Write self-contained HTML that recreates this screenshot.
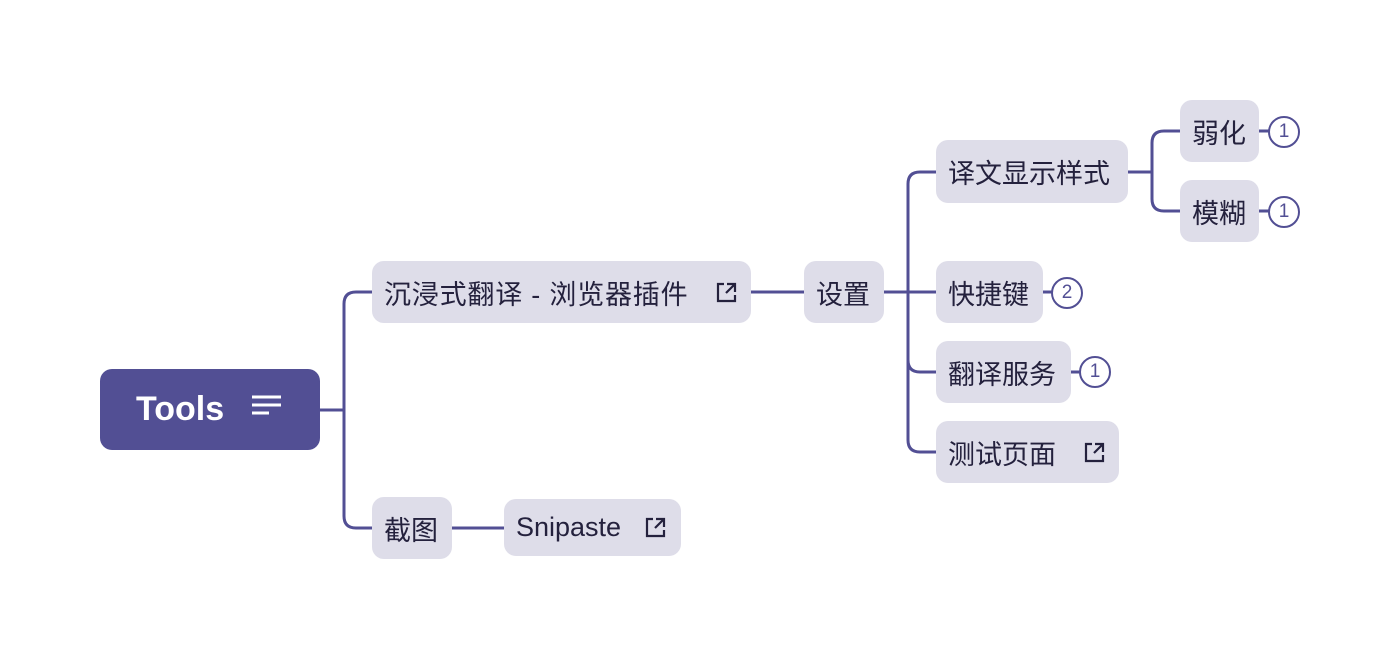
<!DOCTYPE html>
<html><head><meta charset="utf-8"><style>
body{margin:0;width:1400px;height:660px;background:#fff;position:relative;overflow:hidden;font-family:"Liberation Sans","Noto Sans CJK SC",sans-serif}
.n{position:absolute;background:#dedde9;border-radius:12px;color:#24213d;font-size:27px;display:flex;align-items:center;box-sizing:border-box;padding-left:12px;white-space:nowrap}
.b{position:absolute;width:32px;height:32px;border:2px solid #524f94;border-radius:50%;box-sizing:border-box;color:#524f94;font-size:19px;display:flex;align-items:center;justify-content:center;background:#fff}
svg{position:absolute;left:0;top:0}
</style></head><body>
<svg width="1400" height="660" fill="none" stroke="#524f94" stroke-width="3">
<path d="M320 410H344"/>
<path d="M372 292H356Q344 292 344 304V516Q344 528 356 528H372"/>
<path d="M452 528H504"/>
<path d="M751 292H804"/>
<path d="M884 292H936"/>
<path d="M936 172H920Q908 172 908 184V440Q908 452 920 452H936"/>
<path d="M908 360Q908 372 920 372H936"/>
<path d="M1128 172H1152"/>
<path d="M1180 131H1164Q1152 131 1152 143V199Q1152 211 1164 211H1180"/>
<path d="M1259 131H1270M1259 211H1270M1043 292H1053M1071 372H1081"/>
</svg>
<div class="n" style="left:100px;top:369px;width:220px;height:81px;background:#524f94;color:#fff;font-weight:bold;font-size:34px;padding-left:36px">Tools
<svg style="position:absolute;left:151px;top:25px" width="32" height="24" stroke="#fff" stroke-width="3"><path d="M1 3H30M1 11H30M1 19H18"/></svg></div>
<div class="n" style="left:372px;top:261px;width:379px;height:62px;letter-spacing:0.8px">沉浸式翻译 - 浏览器插件</div>
<div class="n" style="left:804px;top:261px;width:80px;height:62px">设置</div>
<div class="n" style="left:372px;top:497px;width:80px;height:62px">截图</div>
<div class="n" style="left:504px;top:499px;width:177px;height:57px">Snipaste</div>
<div class="n" style="left:936px;top:140px;width:192px;height:63px">译文显示样式</div>
<div class="n" style="left:936px;top:261px;width:107px;height:62px">快捷键</div>
<div class="n" style="left:936px;top:341px;width:135px;height:62px">翻译服务</div>
<div class="n" style="left:936px;top:421px;width:183px;height:62px">测试页面</div>
<div class="n" style="left:1180px;top:100px;width:79px;height:62px">弱化</div>
<div class="n" style="left:1180px;top:180px;width:79px;height:62px">模糊</div>
<svg width="1400" height="660" fill="none" stroke="#24213d" stroke-width="2.2">
<g transform="translate(716,282)"><path d="M8 2H2V19H19V13M11 2H19V10M19 2L10 11"/></g>
<g transform="translate(645,517)"><path d="M8 2H2V19H19V13M11 2H19V10M19 2L10 11"/></g>
<g transform="translate(1084,442)"><path d="M8 2H2V19H19V13M11 2H19V10M19 2L10 11"/></g>
</svg>
<div class="b" style="left:1268px;top:116px">1</div>
<div class="b" style="left:1268px;top:196px">1</div>
<div class="b" style="left:1051px;top:277px">2</div>
<div class="b" style="left:1079px;top:356px">1</div>
</body></html>
